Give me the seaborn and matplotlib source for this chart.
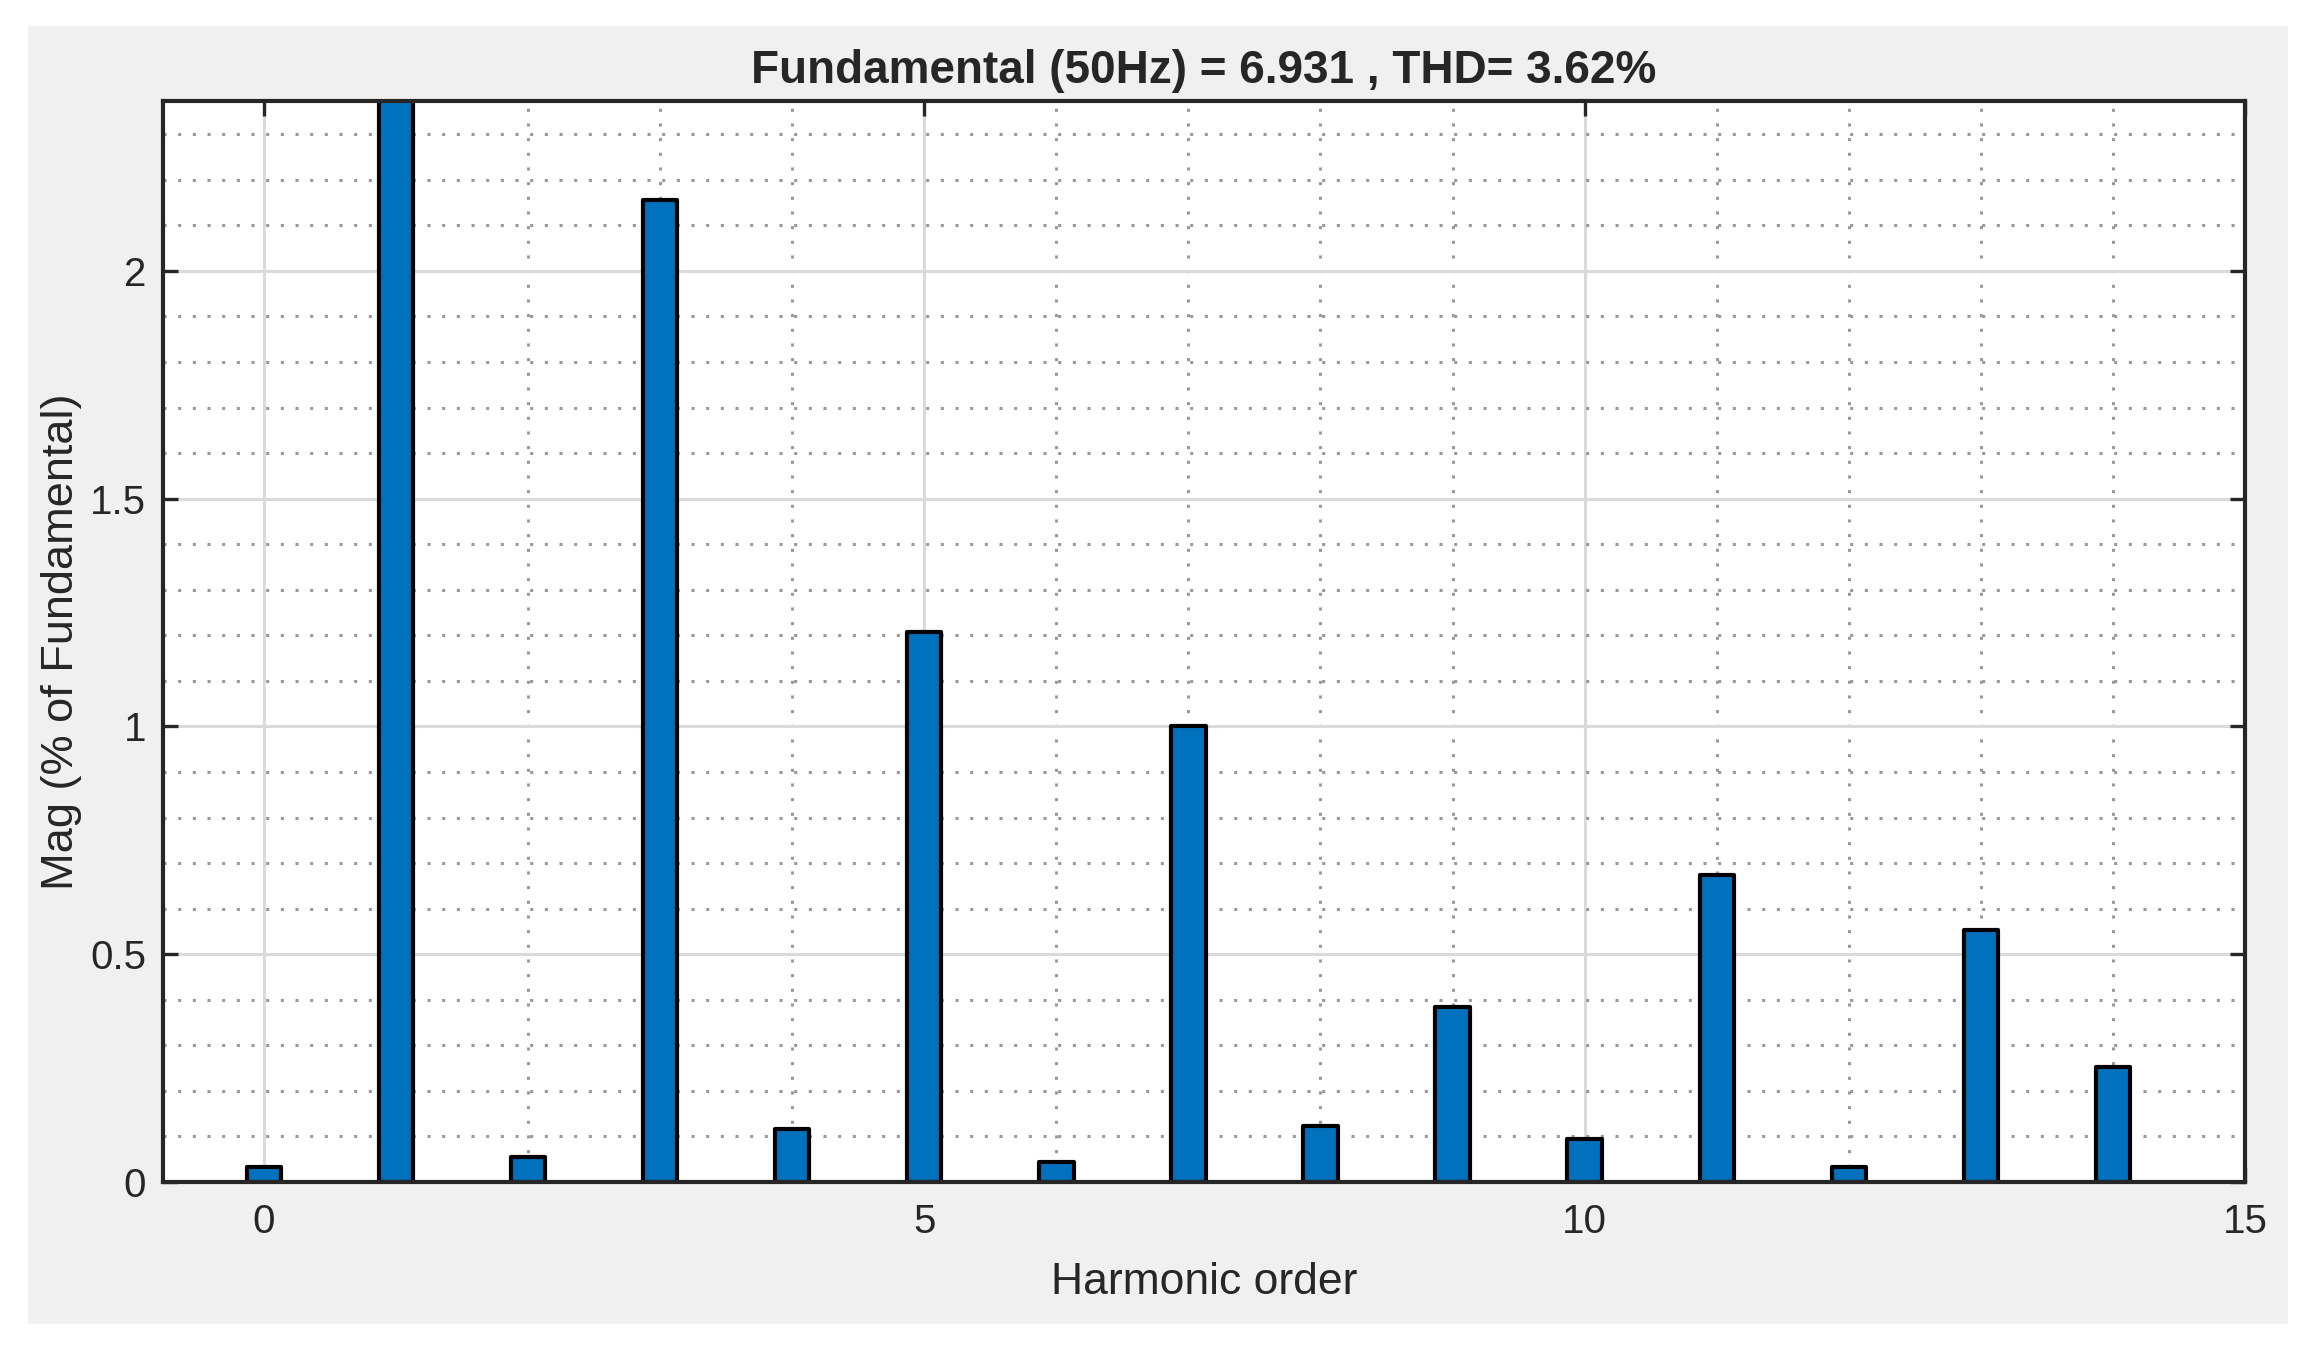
import matplotlib
matplotlib.use("Agg")
import matplotlib.pyplot as plt
import matplotlib.patches as mpatches
from matplotlib.ticker import MultipleLocator
import seaborn as sns
import pandas as pd

# ---- data ----
harmonic_order = [0, 1, 2, 3, 4, 5, 6, 7, 8, 9, 10, 11, 12, 13, 14]
magnitude_pct = [0.032, 100.0, 0.055, 2.155, 0.116, 1.207, 0.045, 1.0,
                 0.123, 0.385, 0.094, 0.675, 0.032, 0.553, 0.252]
title_text = "Fundamental (50Hz) = 6.931 , THD= 3.62%"
x_label = "Harmonic order"
y_label = "Mag (% of Fundamental)"
x_ticks = [0, 5, 10, 15]
y_ticks = [0, 0.5, 1, 1.5, 2]
y_tick_labels = ["0", "0.5", "1", "1.5", "2"]

df = pd.DataFrame({"order": harmonic_order, "mag": magnitude_pct})

sns.set_style("ticks")
plt.rcParams["font.family"] = ["Liberation Sans", "DejaVu Sans"]

W, H = 2310, 1346
fig = plt.figure(figsize=(W / 100, H / 100), dpi=100)
fig.patch.set_facecolor("white")

# gray panel behind the axes
panel = mpatches.Rectangle((28 / W, 1 - 1324 / H), (2288 - 28) / W, (1324 - 26) / H,
                           transform=fig.transFigure, facecolor="#F0F0F0",
                           edgecolor="none", zorder=-10)
fig.patches.append(panel)

ax = fig.add_axes([163 / W, 1 - 1182 / H, (2245 - 163) / W, (1182 - 101) / H])
ax.set_zorder(1)
ax.set_facecolor("white")

sns.barplot(data=df, x="order", y="mag", native_scale=True, width=0.26,
            color="#0072BD", saturation=1, edgecolor="black", linewidth=3.0,
            ax=ax, zorder=3)
for p in ax.patches:
    p.set_joinstyle("round")

ax.set_xlim(-0.764, 15)
ax.set_ylim(0, 2.373)
ax.set_xticks(x_ticks)
ax.set_xticklabels([str(t) for t in x_ticks])
ax.set_yticks(y_ticks)
ax.set_yticklabels(y_tick_labels)
ax.xaxis.set_minor_locator(MultipleLocator(1))
ax.yaxis.set_minor_locator(MultipleLocator(0.1))

ax.set_axisbelow(True)
ax.grid(which="major", color="#dadada", linewidth=2.2, linestyle="-")
ax.grid(which="minor", color="#999999", linewidth=2.2, linestyle=(0, (1, 3.8)))

txt = "#262626"
for s in ax.spines.values():
    s.set_visible(True)
    s.set_color(txt)
    s.set_linewidth(3.0)
    s.set_zorder(5)

ax.tick_params(which="major", direction="in", length=11, width=2.4, color=txt,
               top=True, right=True, labelsize=29, labelcolor=txt)
ax.tick_params(axis="x", which="major", pad=15)
ax.tick_params(axis="y", which="major", pad=12)
ax.tick_params(which="minor", length=0, top=True, right=True)

ax.set_xlabel(x_label, fontsize=32, color=txt, labelpad=15)
ax.set_ylabel(y_label, fontsize=32.5, color=txt, labelpad=6)
ax.set_title(title_text, fontsize=33, fontweight="bold", color=txt, pad=13)

fig.savefig("out.png", dpi=100)
